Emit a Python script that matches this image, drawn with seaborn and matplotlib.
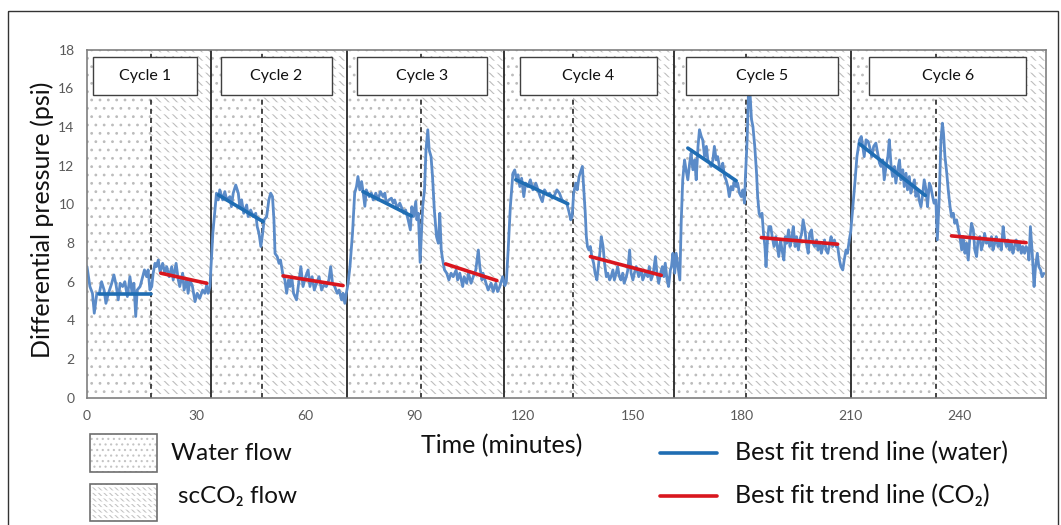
import matplotlib
matplotlib.use("Agg")
import matplotlib.pyplot as plt
import seaborn as sns
import pandas as pd
from matplotlib.patches import Rectangle

sns.set_style("white")
plt.rcParams['font.family'] = ['Lato', 'DejaVu Sans']
plt.rcParams['hatch.linewidth'] = 0.8

# Differential pressure readings (minutes, psi), one list per injection cycle
cycle1 = [(0.0, 6.78), (0.8, 5.75), (1.5, 5.40), (2.0, 4.37), (2.7, 5.40), (3.4, 5.40), (4.0, 6.00), (4.7, 5.57),
          (5.2, 4.88), (5.9, 5.40), (6.8, 5.92), (7.4, 6.35), (8.0, 5.83), (8.6, 5.06), (9.1, 5.92), (9.8, 5.75),
          (10.4, 6.00), (11.1, 5.23), (11.8, 6.26), (12.4, 5.40), (12.9, 5.92), (13.4, 4.20), (13.8, 5.57),
          (14.6, 5.75), (15.3, 6.26), (15.8, 6.61), (16.4, 6.26), (16.8, 6.61), (17.3, 5.57), (17.8, 5.75),
          (18.2, 6.44), (18.7, 6.95), (19.1, 6.78), (19.6, 7.12), (20.1, 6.50), (20.8, 6.95), (21.4, 6.44),
          (21.9, 6.78), (22.6, 6.26), (23.3, 6.78), (23.7, 6.09), (24.5, 6.95), (25.1, 6.09), (25.5, 5.75),
          (26.3, 6.44), (26.7, 5.57), (27.4, 6.09), (27.8, 5.40), (28.3, 6.09), (29.0, 5.75), (29.7, 4.97),
          (30.3, 5.40), (31.0, 5.14), (31.8, 5.57), (32.4, 5.40), (32.9, 5.83), (33.3, 5.40), (33.8, 5.75)]
cycle2 = [(34.6, 8.50), (35.6, 10.58), (36.1, 10.23), (36.5, 10.75), (37.3, 10.23), (37.9, 10.66), (38.4, 10.23),
          (39.3, 10.40), (39.7, 9.88), (40.2, 10.58), (40.9, 11.00), (41.6, 10.58), (42.0, 9.88), (42.5, 10.23),
          (43.1, 9.54), (43.9, 9.97), (44.3, 9.37), (45.0, 9.71), (45.7, 9.37), (46.4, 9.54), (46.8, 8.85),
          (47.3, 8.50), (47.8, 7.82), (48.3, 8.50), (48.7, 9.20), (49.4, 9.37), (50.0, 10.23), (50.5, 10.58),
          (51.0, 10.40), (51.4, 9.20), (51.7, 7.46), (52.3, 7.30), (52.8, 6.95), (53.2, 7.12), (53.8, 6.44),
          (54.4, 6.09), (54.9, 5.40), (55.4, 6.09), (55.8, 5.75), (56.3, 6.26), (56.8, 5.40), (57.6, 5.06),
          (58.2, 5.92), (58.8, 6.78), (59.4, 5.75), (60.1, 6.26), (60.8, 6.61), (61.3, 5.75), (61.9, 6.26),
          (62.5, 5.57), (63.1, 5.92), (63.8, 6.26), (64.5, 5.57), (65.1, 5.83), (65.8, 5.75), (66.5, 6.09),
          (67.0, 6.78), (67.5, 5.92), (68.1, 5.75), (68.8, 5.40), (69.3, 5.57), (70.0, 5.06), (70.4, 5.40),
          (70.9, 4.88), (71.3, 5.40)]
cycle3 = [(71.8, 5.92), (72.3, 6.78), (73.0, 8.50), (73.6, 10.58), (74.1, 10.92), (74.5, 11.44), (75.0, 10.75),
          (75.5, 11.18), (75.9, 10.66), (76.4, 9.90), (76.8, 10.75), (77.6, 10.40), (78.2, 10.58), (78.7, 10.23),
          (79.4, 10.58), (80.0, 10.23), (80.7, 10.66), (81.4, 10.40), (81.9, 10.58), (82.3, 10.06), (83.0, 10.23),
          (83.7, 10.32), (84.2, 10.06), (84.6, 10.23), (85.3, 9.80), (86.0, 10.06), (86.4, 9.88), (87.1, 9.54),
          (87.6, 9.71), (88.3, 9.20), (88.9, 8.68), (89.3, 9.88), (89.8, 9.37), (90.4, 10.15), (90.7, 9.20),
          (91.1, 9.54), (91.6, 7.00), (92.3, 9.90), (92.8, 10.75), (93.2, 12.80), (93.7, 13.86), (94.1, 12.80),
          (94.6, 12.47), (95.0, 11.44), (95.5, 9.71), (96.1, 8.33), (96.6, 7.99), (97.0, 9.54), (97.4, 7.64),
          (97.8, 7.12), (98.3, 6.61), (98.9, 6.44), (99.5, 6.09), (100.1, 6.44), (100.7, 6.26), (101.5, 6.61),
          (101.9, 6.09), (102.5, 6.44), (103.3, 5.75), (103.7, 6.26), (104.4, 5.92), (104.9, 6.44), (105.6, 5.92),
          (106.2, 6.26), (106.9, 6.61), (107.6, 7.64), (108.0, 6.78), (108.6, 6.09), (108.9, 6.44), (109.7, 5.92),
          (110.3, 5.57), (111.1, 5.92), (111.7, 5.49), (112.4, 5.92), (112.9, 5.49), (113.5, 5.75), (114.3, 6.26)]
cycle4 = [(114.9, 5.80), (115.3, 6.00), (115.8, 7.64), (116.4, 9.88), (117.1, 11.60), (117.6, 11.78),
          (118.1, 11.27), (118.5, 11.53), (119.0, 10.92), (119.5, 11.35), (120.1, 10.40), (120.6, 11.10),
          (121.2, 10.92), (121.9, 11.27), (122.6, 10.75), (123.4, 11.10), (124.0, 10.75), (124.6, 10.40),
          (125.2, 10.14), (125.8, 10.75), (126.5, 10.49), (127.2, 10.58), (127.9, 10.32), (128.6, 10.49),
          (129.2, 10.75), (129.9, 10.58), (130.6, 10.23), (131.2, 10.14), (131.9, 10.06), (132.5, 9.63),
          (133.0, 9.20), (133.4, 9.37), (133.8, 10.58), (134.4, 11.10), (134.8, 10.75), (135.3, 11.44),
          (135.9, 11.78), (136.2, 11.96), (136.6, 10.75), (137.0, 9.54), (137.3, 8.33), (137.6, 7.82),
          (138.0, 7.64), (138.4, 7.82), (138.8, 7.30), (139.3, 6.96), (139.7, 6.44), (140.2, 6.09), (140.6, 6.78),
          (141.0, 7.47), (141.4, 8.33), (141.9, 7.82), (142.3, 6.96), (142.8, 6.26), (143.2, 6.44), (143.7, 6.09),
          (144.1, 6.26), (144.6, 6.61), (145.0, 6.09), (145.5, 6.44), (145.9, 6.78), (146.4, 6.26), (146.8, 6.09),
          (147.3, 6.44), (147.7, 5.92), (148.3, 6.26), (148.7, 6.61), (149.2, 7.64), (149.6, 6.44), (150.1, 6.09),
          (150.5, 6.44), (151.0, 6.78), (151.7, 6.26), (152.4, 6.61), (152.8, 6.09), (153.5, 6.44), (154.2, 6.26),
          (154.6, 6.78), (155.1, 6.09), (155.7, 6.44), (156.3, 7.30), (156.7, 6.44), (157.2, 5.92), (157.7, 6.44),
          (158.2, 6.78), (158.6, 6.26), (159.0, 6.96), (159.5, 6.09), (159.9, 5.75), (160.4, 6.61), (160.7, 6.78),
          (161.1, 7.47)]
cycle5 = [(161.6, 6.44), (162.0, 7.47), (162.5, 6.78), (163.0, 6.09), (163.4, 9.20), (163.8, 11.27),
          (164.3, 12.30), (164.7, 11.79), (165.2, 11.27), (165.7, 12.13), (166.1, 12.65), (166.6, 11.79),
          (167.1, 12.30), (167.5, 11.27), (168.0, 13.00), (168.4, 13.86), (168.9, 13.51), (169.3, 13.33),
          (169.8, 12.47), (170.3, 13.00), (170.7, 12.30), (171.2, 12.13), (171.6, 11.96), (172.1, 12.30),
          (172.5, 13.00), (173.0, 12.30), (173.4, 12.47), (173.9, 11.96), (174.4, 11.79), (174.8, 12.13),
          (175.3, 11.44), (175.7, 11.27), (176.2, 10.92), (176.6, 10.40), (177.1, 10.92), (177.6, 10.75),
          (178.0, 11.27), (178.5, 10.92), (178.9, 11.10), (179.4, 10.58), (179.9, 10.40), (180.3, 10.75),
          (180.8, 10.06), (181.0, 11.27), (181.5, 13.30), (181.9, 15.90), (182.3, 15.75), (182.7, 14.40),
          (183.1, 14.03), (183.6, 13.00), (184.1, 11.61), (184.4, 10.40), (184.8, 9.54), (185.1, 9.37),
          (185.6, 9.54), (186.0, 8.50), (186.4, 7.82), (186.7, 6.78), (187.1, 8.16), (187.5, 8.85), (188.0, 8.85),
          (188.4, 8.33), (188.9, 7.82), (189.4, 8.33), (189.8, 7.82), (190.2, 7.30), (190.7, 8.16), (191.1, 7.64),
          (191.6, 7.12), (192.0, 8.33), (192.4, 7.99), (192.9, 8.68), (193.3, 7.82), (193.8, 8.33), (194.2, 8.85),
          (194.7, 7.82), (195.1, 8.33), (195.6, 7.64), (196.0, 8.16), (196.5, 8.50), (196.9, 9.20), (197.4, 8.68),
          (197.8, 7.99), (198.3, 7.47), (198.7, 8.50), (199.2, 8.68), (199.6, 7.99), (200.1, 7.82), (200.6, 8.16),
          (201.0, 7.64), (201.5, 7.99), (201.9, 7.47), (202.3, 7.82), (202.8, 8.16), (203.2, 7.64), (203.7, 7.47),
          (204.2, 7.99), (204.6, 8.33), (205.0, 7.82), (205.5, 8.16), (206.0, 7.82), (206.4, 7.82), (206.9, 7.12),
          (207.3, 6.78), (207.8, 6.61), (208.2, 7.12), (208.7, 7.64), (209.1, 7.47), (209.6, 8.16)]
cycle6 = [(210.0, 8.60), (210.5, 9.71), (211.2, 11.27), (211.7, 12.47), (212.4, 13.34), (212.9, 13.51),
          (213.3, 13.00), (213.7, 12.47), (214.2, 13.34), (214.8, 13.25), (215.4, 12.82), (215.8, 12.47),
          (216.3, 13.00), (216.9, 13.17), (217.4, 12.65), (217.9, 12.13), (218.3, 11.96), (218.8, 12.30),
          (219.2, 11.27), (219.7, 11.96), (220.2, 12.47), (220.6, 13.34), (221.1, 11.96), (221.5, 11.44),
          (222.0, 11.96), (222.4, 11.10), (222.9, 11.79), (223.4, 12.30), (223.8, 11.27), (224.3, 11.79),
          (224.7, 10.92), (225.2, 11.61), (225.6, 10.75), (226.1, 11.44), (226.5, 10.58), (227.0, 10.92),
          (227.5, 11.27), (227.9, 10.41), (228.4, 10.75), (228.8, 10.23), (229.3, 9.88), (229.7, 10.41),
          (230.2, 11.27), (230.7, 10.75), (231.1, 9.88), (231.6, 11.10), (232.0, 10.92), (232.5, 10.41),
          (232.9, 10.06), (233.4, 10.23), (233.8, 8.16), (234.3, 10.23), (234.8, 13.34), (235.2, 14.20),
          (235.5, 13.68), (235.9, 12.47), (236.4, 11.61), (236.8, 10.75), (237.3, 9.88), (237.7, 9.37),
          (238.2, 9.54), (238.6, 9.02), (239.1, 9.20), (239.6, 8.68), (240.0, 8.33), (240.5, 7.64), (240.9, 8.33),
          (241.4, 7.47), (241.8, 7.99), (242.3, 7.12), (242.7, 8.16), (243.2, 9.02), (243.7, 8.68), (244.1, 7.64),
          (244.6, 7.30), (245.0, 8.16), (245.5, 8.33), (245.9, 7.64), (246.4, 7.99), (246.8, 8.50), (247.3, 7.99),
          (247.8, 8.16), (248.2, 7.82), (248.7, 8.33), (249.1, 7.64), (249.6, 7.99), (250.0, 8.33), (250.5, 7.82),
          (250.9, 8.16), (251.4, 7.64), (251.9, 8.85), (252.3, 8.16), (252.8, 7.82), (253.2, 8.16), (253.7, 7.64),
          (254.1, 7.99), (254.6, 7.47), (255.0, 7.82), (255.5, 8.16), (256.0, 7.64), (256.4, 7.99), (256.9, 7.47),
          (257.3, 7.82), (257.8, 7.47), (258.2, 7.82), (258.7, 7.64), (259.0, 7.12), (259.4, 8.85), (259.9, 7.47),
          (260.4, 5.75), (260.8, 6.78), (261.3, 7.47), (261.7, 6.78), (262.2, 6.61), (262.6, 6.26), (263.1, 6.43)]

# Phase timing (minutes)
cycle_starts = [0.0, 34.0, 71.4, 114.7, 161.5, 210.2]
switch_to_co2 = [17.5, 48.0, 91.8, 133.7, 181.2, 233.4]
test_end = 263.6

# Linear trend lines: (start time, end time) and (start psi, end psi)
water_fit_t = [(3.3, 17.5), (36.1, 48.4), (75.9, 89.2), (117.9, 132.2), (165.2, 178.5), (212.4, 230.5)]
water_fit_p = [(5.35, 5.35), (10.49, 9.11), (10.66, 9.40), (11.27, 10.03), (12.91, 11.22), (13.13, 10.46)]
co2_fit_t = [(20.3, 32.9), (53.9, 70.4), (98.6, 112.7), (138.4, 157.9), (185.4, 206.4), (237.7, 258.2)]
co2_fit_p = [(6.44, 5.92), (6.30, 5.80), (6.92, 6.06), (7.30, 6.33), (8.28, 7.94), (8.37, 8.02)]

# Cycle label boxes: x extent in minutes
cycle_names = ["Cycle 1", "Cycle 2", "Cycle 3", "Cycle 4", "Cycle 5", "Cycle 6"]
label_x = [(1.6, 30.2), (36.8, 67.3), (74.2, 109.9), (119.0, 156.6), (164.6, 206.6), (215.0, 258.3)]
label_y = (15.67, 17.63)

W, H = 1061, 525
fig = plt.figure(figsize=(W / 100, H / 100), dpi=100)
fig.patch.set_facecolor("white")
ax = fig.add_axes([87 / W, 1 - 397.7 / H, (1045.7 - 87) / W, (397.7 - 49.7) / H])

data = pd.DataFrame(cycle1 + cycle2 + cycle3 + cycle4 + cycle5 + cycle6, columns=["time", "dp"])

cycle_ends = cycle_starts[1:] + [test_end]
for a, s, b in zip(cycle_starts, switch_to_co2, cycle_ends):
    # water injection: dotted fill
    ax.axvspan(a, s, facecolor="white", edgecolor="#bcbcbc", hatch="..", linewidth=0, zorder=0)
    # scCO2 injection: rows of short diagonal strokes
    ax.axvspan(s, b, facecolor="white", edgecolor="#bdbdbd", hatch="\\\\\\\\", linewidth=0, zorder=0)
    with plt.rc_context({"hatch.linewidth": 2.6}):
        ax.axvspan(s, b, facecolor="none", edgecolor="white", hatch="--", linewidth=0, zorder=0.5)

for x in cycle_starts[1:]:
    ax.axvline(x, color="#262626", linewidth=1.3, zorder=2)
for x in switch_to_co2:
    ax.axvline(x, color="#262626", linewidth=1.2, linestyle=(0, (3, 2.5)), zorder=2)

sns.lineplot(data=data, x="time", y="dp", ax=ax, color="#5b8bc8", linewidth=2.0,
             estimator=None, sort=False, zorder=3)

for (t0, t1), (p0, p1) in zip(water_fit_t, water_fit_p):
    sns.lineplot(x=[t0, t1], y=[p0, p1], ax=ax, color="#1f6db3", linewidth=2.6, zorder=4)
for (t0, t1), (p0, p1) in zip(co2_fit_t, co2_fit_p):
    sns.lineplot(x=[t0, t1], y=[p0, p1], ax=ax, color="#d9161e", linewidth=2.6, zorder=4)

for name, (x0, x1) in zip(cycle_names, label_x):
    ax.add_patch(Rectangle((x0, label_y[0]), x1 - x0, label_y[1] - label_y[0], facecolor="white",
                           edgecolor="#404040", linewidth=1.0, zorder=5))
    ax.text((x0 + x1) / 2, sum(label_y) / 2, name, ha="center", va="center", fontsize=11.5,
            color="#111111", zorder=6)

ax.set_xlim(0, test_end)
ax.set_ylim(0, 18)
ax.set_xticks(range(0, 241, 30))
ax.set_yticks(range(0, 19, 2))
ax.set_xlabel("")
ax.set_ylabel("")
for sp in ax.spines.values():
    sp.set_color("#7f7f7f")
    sp.set_linewidth(1.2)
    sp.set_zorder(7)
ax.tick_params(axis="both", direction="out", length=5, width=1.0, color="#7f7f7f",
               labelcolor="#595959", labelsize=10, pad=4)

fig.text(42 / W, 1 - 220 / H, "Differential pressure (psi)", rotation=90, ha="center", va="center",
         fontsize=18, color="#111111")
fig.text(502 / W, 1 - 446 / H, "Time (minutes)", ha="center", va="center", fontsize=18, color="#111111")

# Key below the plot, laid out in pixel coordinates
ov = fig.add_axes([0, 0, 1, 1])
ov.set_xlim(0, W)
ov.set_ylim(H, 0)
ov.set_axis_off()
ov.add_patch(Rectangle((8, 11), 1050, 530, fill=False, edgecolor="#333333", linewidth=1.0))

ov.add_patch(Rectangle((90, 434), 67, 38, facecolor="white", edgecolor="#c4c4c4", hatch="...", linewidth=0))
ov.add_patch(Rectangle((90, 434), 67, 38, fill=False, edgecolor="#6e6e6e", linewidth=1.2))
ov.add_patch(Rectangle((90, 484), 67, 37, facecolor="white", edgecolor="#c4c4c4", hatch="\\\\\\\\\\\\",
                       linewidth=0))
with plt.rc_context({"hatch.linewidth": 1.8}):
    ov.add_patch(Rectangle((90, 484), 67, 37, facecolor="none", edgecolor="white", hatch="---", linewidth=0))
ov.add_patch(Rectangle((90, 484), 67, 37, fill=False, edgecolor="#6e6e6e", linewidth=1.2))
ov.text(171, 453, "Water flow", ha="left", va="center", fontsize=17.5, color="#111111")
ov.text(178, 497, "scCO\u2082 flow", ha="left", va="center", fontsize=17.5, color="#111111")

ov.plot([660, 717], [453, 453], color="#1f6db3", linewidth=2.6)
ov.plot([660, 717], [496, 496], color="#d9161e", linewidth=2.6)
ov.text(735, 453, "Best fit trend line (water)", ha="left", va="center", fontsize=18, color="#111111")
ov.text(735, 496, "Best fit trend line (CO\u2082)", ha="left", va="center", fontsize=18, color="#111111")

fig.savefig("out.png", dpi=100, facecolor="white")
